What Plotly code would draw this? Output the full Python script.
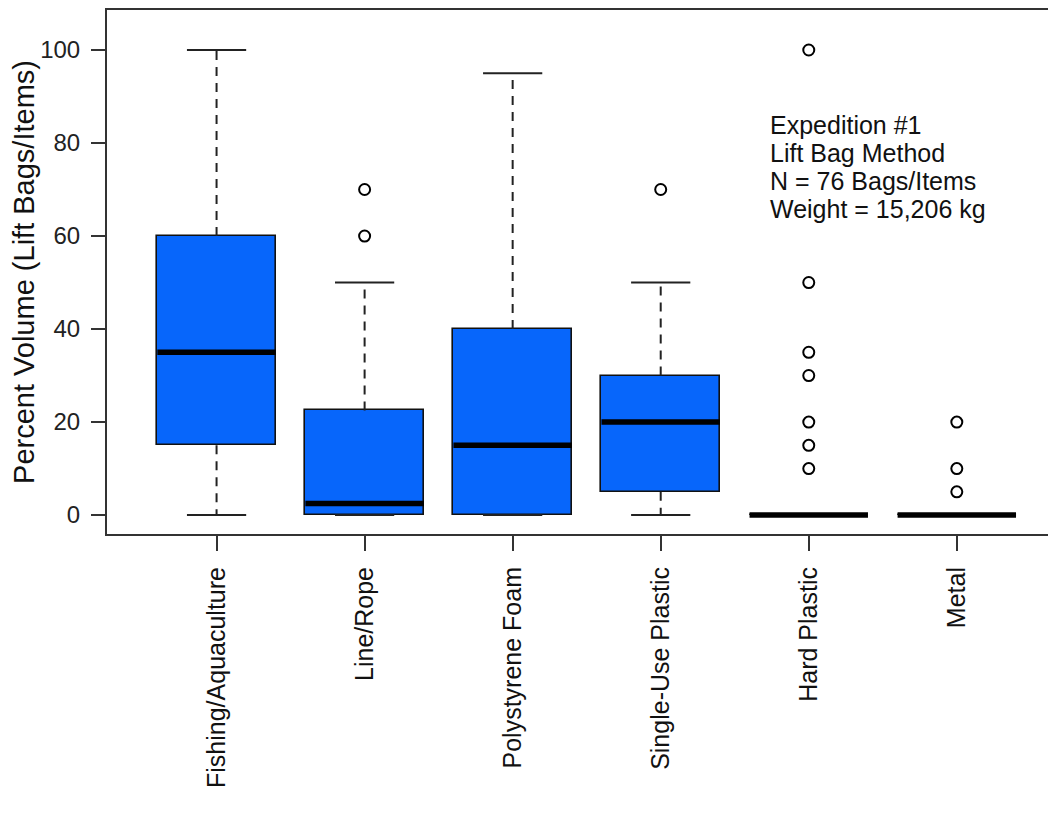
import plotly.graph_objects as go

categories = ["Fishing/Aquaculture", "Line/Rope", "Polystyrene Foam",
              "Single-Use Plastic", "Hard Plastic", "Metal"]
lower_whisker = [0, 0, 0, 0, 0, 0]
q1 = [15, 0, 0, 5, 0, 0]
median = [35, 2.5, 15, 20, 0, 0]
q3 = [60, 22.5, 40, 30, 0, 0]
upper_whisker = [100, 50, 95, 50, 0, 0]
outliers = [[], [60, 70], [], [70], [10, 15, 20, 30, 35, 50, 100], [5, 10, 20]]
y_ticks = [0, 20, 40, 60, 80, 100]
note_lines = ["Expedition #1", "Lift Bag Method", "N = 76 Bags/Items", "Weight = 15,206 kg"]

FONT = "Liberation Sans, Arial, sans-serif"
BLUE = "#0766fb"
AX = "#333333"
BOXW = 0.8
CAPW = 0.4

pos = list(range(1, len(categories) + 1))

fig = go.Figure()

# whiskers (dashed)
wx, wy = [], []
for i, p in enumerate(pos):
    if upper_whisker[i] > q3[i]:
        wx += [p, p, None]; wy += [q3[i], upper_whisker[i], None]
    if lower_whisker[i] < q1[i]:
        wx += [p, p, None]; wy += [q1[i], lower_whisker[i], None]
fig.add_trace(go.Scatter(x=wx, y=wy, mode="lines",
                         line=dict(color="#222222", width=2, dash="9px,7px"),
                         hoverinfo="skip", showlegend=False))
# caps
cx, cy = [], []
for i, p in enumerate(pos):
    for v in (upper_whisker[i], lower_whisker[i]):
        cx += [p - CAPW / 2, p + CAPW / 2, None]; cy += [v, v, None]
fig.add_trace(go.Scatter(x=cx, y=cy, mode="lines",
                         line=dict(color="#222222", width=2),
                         hoverinfo="skip", showlegend=False))

# boxes
fig.add_trace(go.Bar(x=pos, base=q1, y=[b - a for a, b in zip(q1, q3)],
                     width=BOXW, marker=dict(color=BLUE, line=dict(color="#111111", width=1.6)),
                     showlegend=False))

# medians
mx, my = [], []
for i, p in enumerate(pos):
    mx += [p - BOXW / 2, p + BOXW / 2, None]; my += [median[i], median[i], None]
fig.add_trace(go.Scatter(x=mx, y=my, mode="lines",
                         line=dict(color="black", width=5.5),
                         hoverinfo="skip", showlegend=False))

# outliers
ox, oy = [], []
for i, p in enumerate(pos):
    for v in outliers[i]:
        ox.append(p); oy.append(v)
fig.add_trace(go.Scatter(x=ox, y=oy, mode="markers",
                         marker=dict(symbol="circle-open", size=11, color="black",
                                     line=dict(width=2, color="black")),
                         showlegend=False))

# note text
for k, line in enumerate(note_lines):
    fig.add_annotation(x=4.726, y=83.9 - k * 6.0, xref="x", yref="y", text=line,
                       showarrow=False, xanchor="left", yanchor="middle",
                       font=dict(family=FONT, size=25, color="#111111"))

fig.update_layout(
    width=1048, height=812,
    margin=dict(l=99, r=0, t=0, b=286),
    paper_bgcolor="white", plot_bgcolor="white",
    font=dict(family=FONT, color="#222222"),
    bargap=0,
)
fig.update_xaxes(range=[0.26, 6.67], tickvals=pos, ticktext=categories,
                 tickangle=-90, ticks="outside", ticklen=15, tickwidth=1.5, tickcolor=AX,
                 tickfont=dict(size=25, family=FONT, color="#111111"),
                 ticklabelstandoff=6,
                 showline=True, linecolor=AX, linewidth=2, mirror=True,
                 showgrid=False, zeroline=False)
fig.update_yaxes(range=[-4.07, 108.6], tickvals=y_ticks,
                 ticks="outside", ticklen=14, tickwidth=1.5, tickcolor=AX,
                 tickfont=dict(size=24, family=FONT, color="#222222"),
                 ticklabelstandoff=6,
                 showline=True, linecolor=AX, linewidth=2, mirror=False,
                 showgrid=False, zeroline=False,
                 title=dict(text="Percent Volume (Lift Bags/Items)", standoff=4,
                            font=dict(size=29, family=FONT, color="#111111")))

fig.write_html("out.html")
